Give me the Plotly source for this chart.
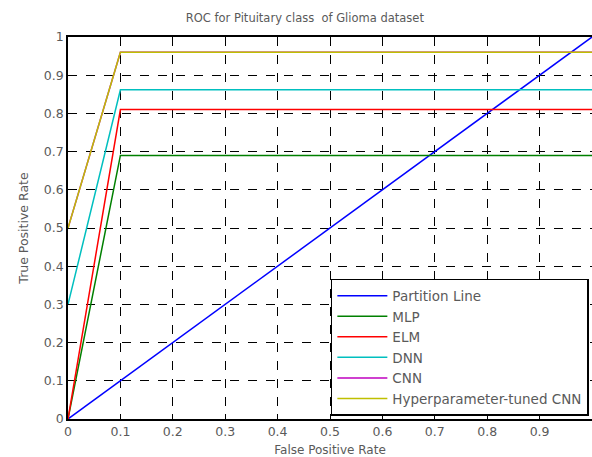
import plotly.graph_objects as go

# Data
partition_x = [0, 1]
partition_y = [0, 1]
fpr = [0, 0.1, 1]
mlp_tpr = [0, 0.69, 0.69]
elm_tpr = [0, 0.81, 0.81]
dnn_tpr = [0.3, 0.862, 0.862]
cnn_tpr = [0.5, 0.96, 0.96]
hcnn_tpr = [0.5, 0.96, 0.96]

tick_vals = [0, 0.1, 0.2, 0.3, 0.4, 0.5, 0.6, 0.7, 0.8, 0.9, 1]
tick_text = ["0", "0.1", "0.2", "0.3", "0.4", "0.5", "0.6", "0.7", "0.8", "0.9", "1"]

series = [
    ("Partition Line", partition_x, partition_y, "#0000ff"),
    ("MLP", fpr, mlp_tpr, "#008000"),
    ("ELM", fpr, elm_tpr, "#ff0000"),
    ("DNN", fpr, dnn_tpr, "#00bfbf"),
    ("CNN", fpr, cnn_tpr, "#bf00bf"),
    ("Hyperparameter-tuned CNN", fpr, hcnn_tpr, "#bfbf00"),
]

fig = go.Figure()
for name, xs, ys, col in series:
    fig.add_trace(go.Scatter(x=xs, y=ys, mode="lines", name=name,
                             line=dict(color=col, width=1.5)))

font = "DejaVu Sans, Verdana, sans-serif"
txt = "#5a5a5a"
axis_common = dict(
    tickvals=tick_vals, ticktext=tick_text, range=[0, 1],
    showgrid=True, gridcolor="black", griddash="dash", gridwidth=1,
    ticks="inside", ticklen=5, tickcolor="black",
    showline=True, linecolor="black", linewidth=1.5,
    zeroline=False, tickfont=dict(size=12.5, color=txt, family=font),
)

fig.update_layout(
    width=592, height=457,
    margin=dict(l=68, r=0, t=37, b=38),
    paper_bgcolor="white", plot_bgcolor="white",
    title=dict(text="ROC for Pituitary class  of Glioma dataset", x=0.515, xanchor="center",
               y=1 - 18 / 457, yanchor="middle",
               font=dict(size=11.5, color=txt, family=font)),
    xaxis=dict(**axis_common, mirror="ticks",
               title=dict(text="False Positive Rate", standoff=8,
                          font=dict(size=12, color=txt, family=font))),
    yaxis=dict(**axis_common,
               title=dict(text="True Positive Rate", standoff=12,
                          font=dict(size=12.5, color=txt, family=font))),
    legend=dict(x=0.994, y=0.008, xanchor="right", yanchor="bottom",
                bgcolor="white", bordercolor="black", borderwidth=1.5,
                itemwidth=50, font=dict(size=13.5, color=txt, family=font),
                tracegroupgap=0),
    showlegend=True,
)

fig.write_html("out.html")
